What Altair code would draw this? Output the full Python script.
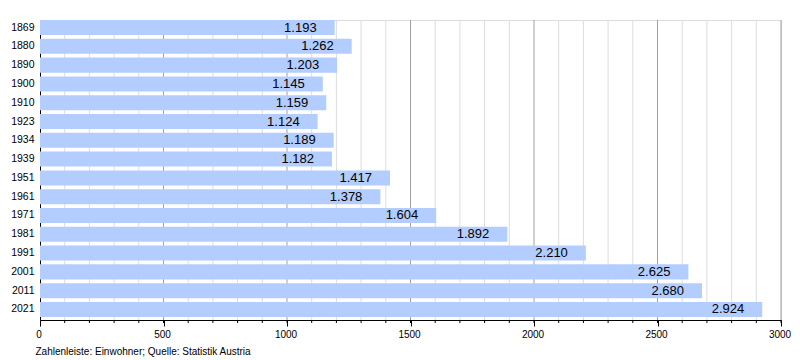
import altair as alt
import pandas as pd

years = ["1869", "1880", "1890", "1900", "1910", "1923", "1934", "1939",
         "1951", "1961", "1971", "1981", "1991", "2001", "2011", "2021"]
population = [1193, 1262, 1203, 1145, 1159, 1124, 1189, 1182,
              1417, 1378, 1604, 1892, 2210, 2625, 2680, 2924]
minor_values = list(range(100, 3001, 100))
major_values = [0, 500, 1000, 1500, 2000, 2500, 3000]
footer = "Zahlenleiste: Einwohner; Quelle: Statistik Austria"

df = pd.DataFrame({"Jahr": years, "Einwohner": population})
grid_df = pd.DataFrame({"v": minor_values})
grid_df["major"] = grid_df["v"] % 500 == 0

FONT = "Liberation Sans"

x_scale = alt.Scale(domain=[0, 3000], nice=False, zero=True)
y_scale = alt.Scale(domain=years, paddingInner=0.2, paddingOuter=0.08, align=0)

grid = alt.Chart(grid_df).mark_rule(strokeWidth=1).encode(
    x=alt.X("v:Q", scale=x_scale),
    y=alt.value(0), y2=alt.value(300),
    color=alt.Color("major:N", scale=alt.Scale(domain=[False, True],
                                               range=["#dddddd", "#a0a0a0"]),
                    legend=None),
)

minor_ticks = alt.Chart(grid_df).mark_rule(strokeWidth=1, color="#000000").encode(
    x=alt.X("v:Q", scale=x_scale),
    y=alt.value(300), y2=alt.value(303),
)

base = alt.Chart(df)

bars = base.mark_bar(color="#b3cdff").encode(
    x=alt.X("Einwohner:Q", scale=x_scale,
            axis=alt.Axis(
                values=major_values,
                format="d",
                grid=False,
                tickSize=6,
                tickColor="#000000",
                domainColor="#000000",
                labelFont=FONT, labelFontSize=10, labelColor="#000000",
                labelPadding=3, labelFlush=False, labelOffset=-1.5,
                title=footer, titleFont=FONT, titleFontSize=10,
                titleFontWeight="normal", titleColor="#000000",
                titleAnchor="start", titleAlign="left", titleBaseline="alphabetic",
                titleX=-5, titleY=34,
            )),
    y=alt.Y("Jahr:N", scale=y_scale, sort=years,
            axis=alt.Axis(title=None, ticks=False, grid=False,
                          domainColor="#000000",
                          labelFont=FONT, labelFontSize=10.5, labelColor="#000000",
                          labelPadding=6)),
)

labels = base.transform_calculate(
    lab="replace(format(datum.Einwohner, ','), ',', '.')"
).mark_text(align="right", baseline="middle", dx=-18, font=FONT,
            fontSize=13, color="#000000").encode(
    x=alt.X("Einwohner:Q", scale=x_scale),
    y=alt.Y("Jahr:N", scale=y_scale, sort=years),
    text="lab:N",
)

chart = alt.layer(grid, minor_ticks, bars, labels).properties(
    width=741, height=300,
    autosize=alt.AutoSizeParams(type="none"),
    padding={"left": 32, "top": 12, "right": 11, "bottom": 40},
).configure_view(stroke=None).configure(background="white")

chart.save("out.html", embed_options={"renderer": "svg", "actions": False})
